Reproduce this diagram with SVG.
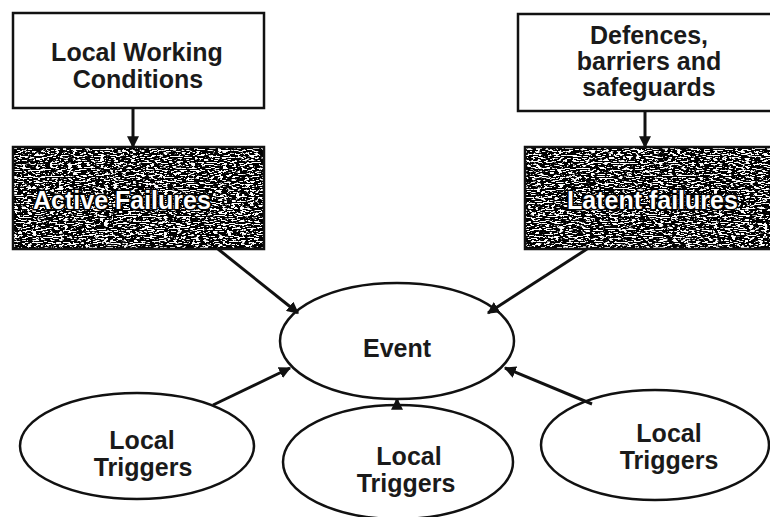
<svg xmlns="http://www.w3.org/2000/svg" width="770" height="517" viewBox="0 0 770 517">
<defs>
<style>
.box{fill:#fff;stroke:#111;stroke-width:2.5}
.ell{fill:none;stroke:#111;stroke-width:2.5}
.t{font-family:"Liberation Sans",Arial,sans-serif;font-weight:bold;font-size:25px;fill:#1a1a1a;text-anchor:middle}
.ht{font-family:"Liberation Sans",Arial,sans-serif;font-weight:bold;font-size:25px;fill:#fff;stroke:#000;stroke-width:3;paint-order:stroke;stroke-linejoin:round}
.con{stroke:#111;stroke-width:3;fill:none}
</style>
<marker id="ah" viewBox="0 0 10 10" refX="9" refY="5" markerWidth="4" markerHeight="4" orient="auto" markerUnits="strokeWidth">
<path d="M0,0 L10,5 L0,10 z" fill="#111"/>
</marker>
<filter id="grain" x="0" y="0" width="100%" height="100%">
<feTurbulence type="fractalNoise" baseFrequency="0.22 0.85" numOctaves="3" seed="11" result="n"/>
<feColorMatrix in="n" type="matrix" values="0 0 0 0 0  0 0 0 0 0  0 0 0 0 0  -16 0 0 0 9.3" result="m"/>
<feComposite in="m" in2="SourceGraphic" operator="in"/>
</filter>
</defs>
<rect width="770" height="517" fill="#fff"/>

<g id="nodes">
<g id="local-working-conditions">
<rect class="box" x="13" y="13" width="251" height="95"/>
<text class="t" x="137" y="61">Local Working</text>
<text class="t" x="138" y="88">Conditions</text>
</g>
<g id="defences">
<rect class="box" x="518" y="14" width="256" height="97"/>
<text class="t" x="649" y="44" font-size="26.5">Defences,</text>
<text class="t" x="649" y="70" font-size="26.5">barriers and</text>
<text class="t" x="649" y="96" font-size="26.5">safeguards</text>
</g>
<g id="active-failures">
<rect x="13" y="147" width="251" height="102" fill="#fff"/>
<rect x="13" y="147" width="251" height="102" fill="#000" filter="url(#grain)"/>
<rect x="13" y="147" width="251" height="102" fill="none" stroke="#111" stroke-width="2.5"/>
<text class="ht" x="33" y="209">Active Failures</text>
</g>
<g id="latent-failures">
<rect x="525" y="147" width="249" height="102" fill="#fff"/>
<rect x="525" y="147" width="249" height="102" fill="#000" filter="url(#grain)"/>
<rect x="525" y="147" width="249" height="102" fill="none" stroke="#111" stroke-width="2.5"/>
<text class="ht" x="567" y="209">Latent failures</text>
</g>
<g id="event">
<ellipse class="ell" cx="397" cy="341" rx="117" ry="58"/>
<text class="t" x="397" y="357" font-size="27">Event</text>
</g>
<g id="trigger-left">
<ellipse class="ell" cx="137" cy="446" rx="117" ry="53"/>
<text class="t" x="142" y="449">Local</text>
<text class="t" x="143" y="476">Triggers</text>
</g>
<g id="trigger-middle">
<ellipse class="ell" cx="398" cy="462" rx="115" ry="57"/>
<text class="t" x="409" y="465">Local</text>
<text class="t" x="406" y="492">Triggers</text>
</g>
<g id="trigger-right">
<ellipse class="ell" cx="655" cy="445" rx="114" ry="55"/>
<text class="t" x="669" y="442">Local</text>
<text class="t" x="669" y="469">Triggers</text>
</g>
</g>

<g id="connectors">
<line class="con" x1="133" y1="108" x2="133" y2="147" marker-end="url(#ah)"/>
<line class="con" x1="645" y1="111" x2="645" y2="147" marker-end="url(#ah)"/>
<line class="con" x1="218" y1="249" x2="298" y2="313" marker-end="url(#ah)"/>
<line class="con" x1="587" y1="249" x2="488" y2="313" marker-end="url(#ah)"/>
<line class="con" x1="213" y1="405" x2="290" y2="368" marker-end="url(#ah)"/>
<line class="con" x1="397" y1="406" x2="397" y2="399" marker-end="url(#ah)"/>
<line class="con" x1="592" y1="404" x2="505" y2="368" marker-end="url(#ah)"/>
</g>
</svg>
